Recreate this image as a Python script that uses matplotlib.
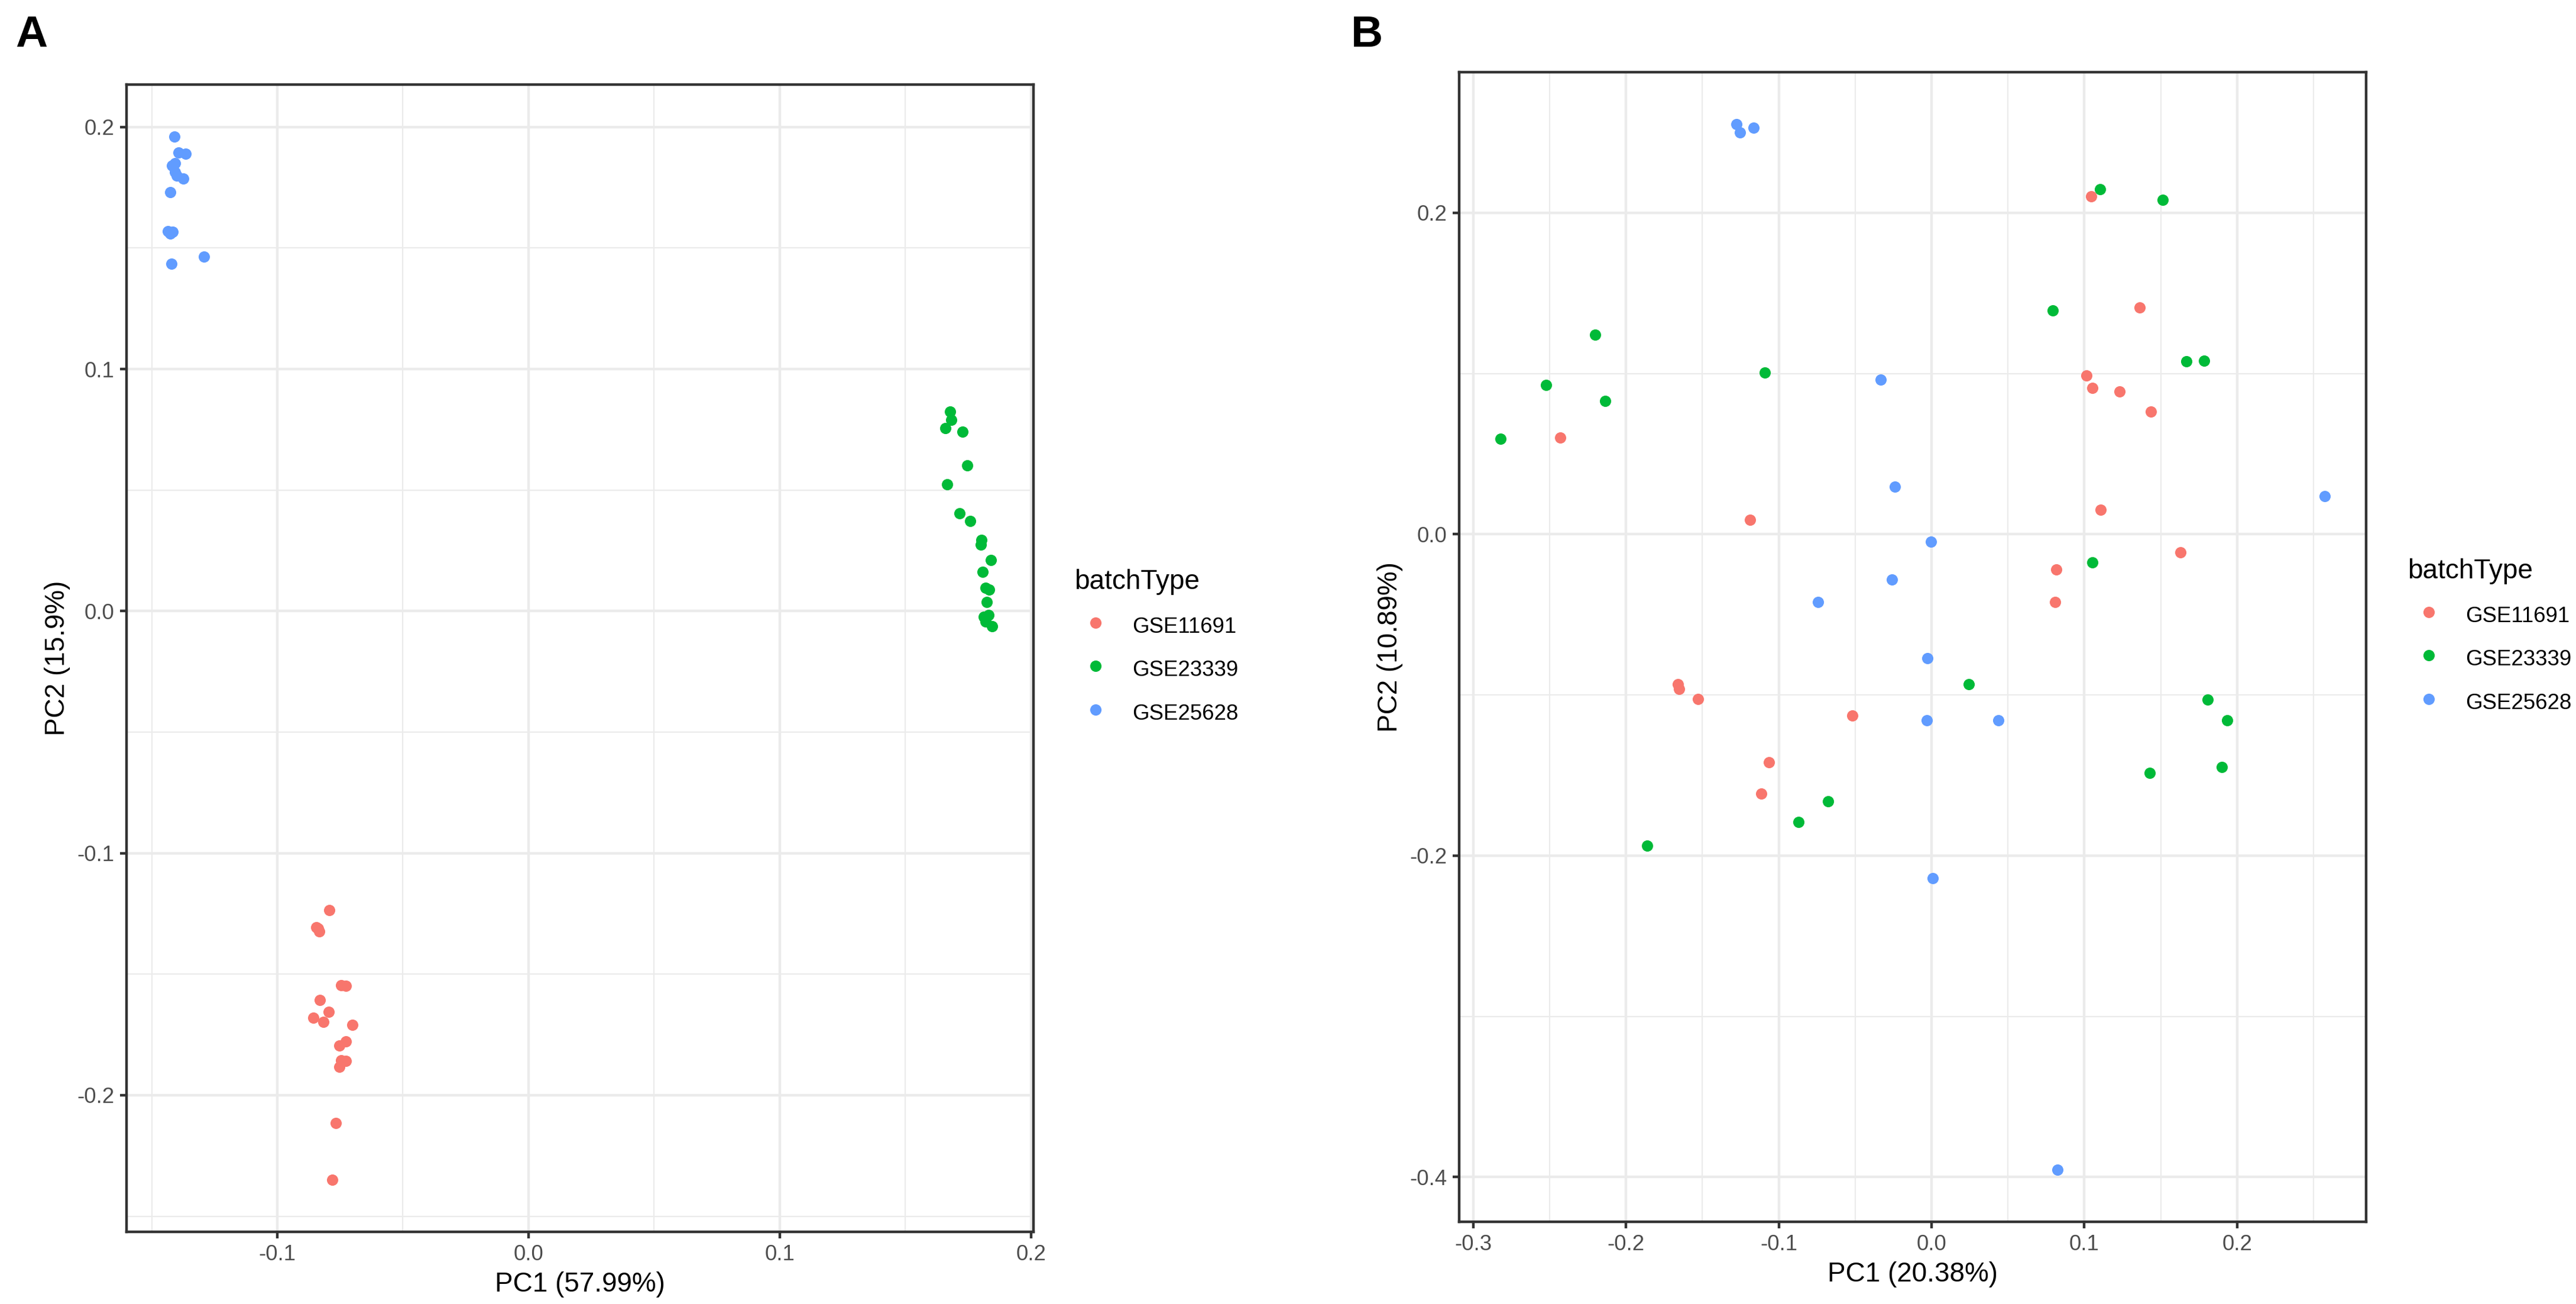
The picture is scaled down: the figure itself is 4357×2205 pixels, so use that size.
import matplotlib
matplotlib.use('Agg')
import matplotlib.pyplot as plt
import numpy as np
from matplotlib.lines import Line2D
from matplotlib.ticker import MultipleLocator

plt.rcParams['font.family'] = ['Liberation Sans', 'DejaVu Sans']

BATCHES = ['GSE11691', 'GSE23339', 'GSE25628']
COLORS = ['#F8766D', '#00BA38', '#619CFF']

# panel A (before correction)
a_x_gse11691 = [-0.0792, -0.0844, -0.0833, -0.0838, -0.0746, -0.0726, -0.0831, -0.0796, -0.0856,
                -0.0817, -0.0701, -0.0728, -0.0752, -0.0726, -0.0746, -0.0752, -0.0768, -0.0782]
a_y_gse11691 = [-0.1236, -0.1306, -0.1324, -0.1312, -0.1546, -0.1548, -0.1607, -0.1655, -0.1680,
                -0.1697, -0.1709, -0.1778, -0.1795, -0.1859, -0.1856, -0.1882, -0.2114, -0.2349]
a_x_gse23339 = [0.1678, 0.1682, 0.1659, 0.1728, 0.1746, 0.1667, 0.1716, 0.1759, 0.1803, 0.1800,
                0.1840, 0.1808, 0.1820, 0.1833, 0.1824, 0.1832, 0.1812, 0.1820, 0.1846]
a_y_gse23339 = [0.0825, 0.0791, 0.0756, 0.0741, 0.0602, 0.0524, 0.0405, 0.0372, 0.0293, 0.0274,
                0.0210, 0.0161, 0.0096, 0.0090, 0.0037, -0.0015, -0.0023, -0.0043, -0.0062]
a_x_gse25628 = [-0.1410, -0.1394, -0.1365, -0.1408, -0.1420, -0.1408, -0.1400, -0.1375, -0.1426,
                -0.1436, -0.1416, -0.1426, -0.1292, -0.1421]
a_y_gse25628 = [0.1960, 0.1895, 0.1890, 0.1850, 0.1840, 0.1814, 0.1800, 0.1787, 0.1730,
                0.1570, 0.1567, 0.1560, 0.1465, 0.1436]

# panel B (after correction)
b_x_gse11691 = [-0.2429, -0.1188, 0.1046, 0.1364, 0.1015, 0.1054, 0.1232, 0.1436, 0.1107,
                0.1630, 0.0818, 0.0808, -0.1659, -0.1652, -0.1527, -0.0520, -0.1063, -0.1116]
b_y_gse11691 = [0.0602, 0.0088, 0.2104, 0.1412, 0.0986, 0.0912, 0.0888, 0.0763, 0.0153,
                -0.0112, -0.0220, -0.0422, -0.0935, -0.0963, -0.1027, -0.1129, -0.1419, -0.1615]
b_x_gse23339 = [-0.2200, -0.2522, -0.2135, -0.2822, -0.1091, 0.1103, 0.1513, 0.0792, 0.1667, 0.1783,
                0.1054, 0.0246, 0.1807, 0.1935, 0.1429, 0.1900, -0.0676, -0.0870, -0.1863]
b_y_gse23339 = [0.1243, 0.0928, 0.0829, 0.0594, 0.1006, 0.2147, 0.2082, 0.1392, 0.1076, 0.1078,
                -0.0177, -0.0935, -0.1030, -0.1159, -0.1485, -0.1449, -0.1662, -0.1792, -0.1938]
b_x_gse25628 = [-0.1276, -0.1253, -0.1164, -0.0333, -0.0240, 0.2575, -0.0004, -0.0260, -0.0741,
                -0.0028, -0.0032, 0.0439, 0.0008, 0.0823]
b_y_gse25628 = [0.2550, 0.2500, 0.2530, 0.0962, 0.0297, 0.0237, -0.0048, -0.0281, -0.0421,
                -0.0771, -0.1159, -0.1159, -0.2142, -0.3953]

W, H = 4357, 2205
DPI = 300


def expand(vals, frac=0.05):
    lo, hi = min(vals), max(vals)
    pad = (hi - lo) * frac
    return lo - pad, hi + pad


def tick_fmt(v, pos):
    # ggplot style labels: plain hyphen, "0.0" at zero
    if abs(v) < 1e-9:
        return '0.0'
    return f'{v:g}'


def draw_panel(ax, xs, ys, xlabel, ylabel, xstep, ystep):
    # grid first (theme_bw look)
    ax.set_facecolor('white')
    ax.xaxis.set_major_locator(MultipleLocator(xstep))
    ax.yaxis.set_major_locator(MultipleLocator(ystep))
    ax.xaxis.set_minor_locator(MultipleLocator(xstep / 2))
    ax.yaxis.set_minor_locator(MultipleLocator(ystep / 2))
    ax.grid(which='major', color='#EBEBEB', linewidth=1.07)
    ax.grid(which='minor', color='#EBEBEB', linewidth=0.53)
    ax.set_axisbelow(True)

    for x, y, c in zip(xs, ys, COLORS):
        ax.scatter(x, y, s=21, color=c, linewidths=0, zorder=3)

    ax.set_xlim(*expand(sum(xs, [])))
    ax.set_ylim(*expand(sum(ys, [])))

    for sp in ax.spines.values():
        sp.set_color('#333333')
        sp.set_linewidth(1.07)
    ax.tick_params(which='major', length=2.75, width=1.07, color='#333333',
                   labelsize=8.8, labelcolor='#4D4D4D', pad=2.2)
    ax.tick_params(which='minor', length=0)
    ax.xaxis.set_major_formatter(plt.FuncFormatter(tick_fmt))
    ax.yaxis.set_major_formatter(plt.FuncFormatter(tick_fmt))
    ax.set_xlabel(xlabel, fontsize=11, labelpad=2.75)
    ax.set_ylabel(ylabel, fontsize=11, labelpad=2.75)


def add_legend(ax, x, y):
    handles = [Line2D([], [], marker='o', linestyle='', markersize=4.6, color=c,
                      markeredgewidth=0) for c in COLORS]
    leg = ax.legend(handles, BATCHES, title='batchType', loc='upper left',
                    bbox_to_anchor=(x, y), bbox_transform=ax.figure.transFigure,
                    frameon=False, fontsize=8.8, title_fontsize=11, alignment='left',
                    handlelength=1.96, handleheight=1.44, labelspacing=0.82,
                    handletextpad=0.71, borderpad=0, borderaxespad=0)
    return leg


def main():
    fig = plt.figure(figsize=(W / DPI, H / DPI), dpi=DPI)

    ax_a = fig.add_axes([214 / W, 1 - 2083 / H, 1534 / W, 1940 / H])
    draw_panel(ax_a,
               [a_x_gse11691, a_x_gse23339, a_x_gse25628],
               [a_y_gse11691, a_y_gse23339, a_y_gse25628],
               'PC1 (57.99%)', 'PC2 (15.9%)', 0.1, 0.1)
    add_legend(ax_a, 1817 / W, 1 - 962 / H)

    ax_b = fig.add_axes([2468 / W, 1 - 2066 / H, 1534 / W, 1944 / H])
    draw_panel(ax_b,
               [b_x_gse11691, b_x_gse23339, b_x_gse25628],
               [b_y_gse11691, b_y_gse23339, b_y_gse25628],
               'PC1 (20.38%)', 'PC2 (10.89%)', 0.1, 0.2)
    add_legend(ax_b, 4072 / W, 1 - 944 / H)

    fig.text(26 / W, 1 - 79 / H, 'A', fontsize=18, fontweight='bold', va='baseline')
    fig.text(2285 / W, 1 - 79 / H, 'B', fontsize=18, fontweight='bold', va='baseline')

    fig.savefig('out.png', dpi=DPI, facecolor='white')
    plt.close(fig)


if __name__ == '__main__':
    main()
